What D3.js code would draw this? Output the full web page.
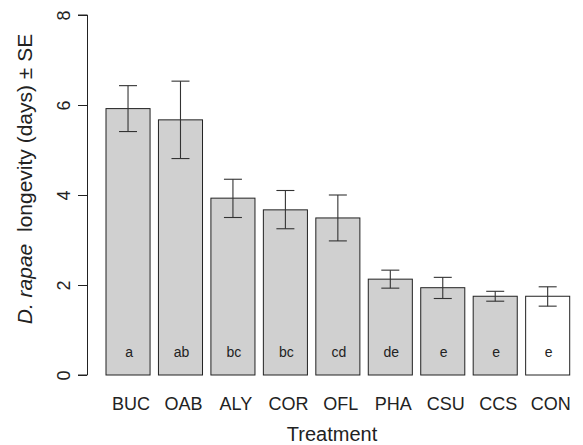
<!DOCTYPE html>
<html><head><meta charset="utf-8">
<script src="https://cdn.jsdelivr.net/npm/d3@7"></script>
<style>body{margin:0;background:#fff}svg{display:block;font-family:"Liberation Sans",Arial,sans-serif}</style>
</head><body>
<script>
const categories = ["BUC","OAB","ALY","COR","OFL","PHA","CSU","CCS","CON"];
const means = [5.92, 5.67, 3.93, 3.67, 3.49, 2.13, 1.94, 1.75, 1.75];
const seUpper = [6.43, 6.53, 4.35, 4.10, 4.00, 2.33, 2.17, 1.86, 1.96];
const seLower = [5.41, 4.81, 3.50, 3.25, 2.98, 1.93, 1.70, 1.64, 1.53];
const letters = ["a","ab","bc","bc","cd","de","e","e","e"];
const fills = ["#d0d0d0","#d0d0d0","#d0d0d0","#d0d0d0","#d0d0d0","#d0d0d0","#d0d0d0","#d0d0d0","#ffffff"];
const yTicks = [0,2,4,6,8];

const W=583,H=445;
const svg=d3.select("body").append("svg").attr("width",W).attr("height",H);
const y=d3.scaleLinear().domain([0,8]).range([375,15]);
const x=d3.scaleBand().domain(categories).range([101.8,573.9]).paddingInner(0.16).paddingOuter(0.08);

const g=svg.append("g");
g.selectAll("rect.bar").data(categories).join("rect")
  .attr("x",d=>x(d)).attr("width",x.bandwidth())
  .attr("y",(d,i)=>y(means[i])).attr("height",(d,i)=>y(0)-y(means[i]))
  .attr("fill",(d,i)=>fills[i]).attr("stroke","#222").attr("stroke-width",1);
const cap=9;
categories.forEach((c,i)=>{
  const cx=x(c)+x.bandwidth()/2;
  const eg=g.append("g").attr("stroke","#333").attr("stroke-width",1.1);
  eg.append("line").attr("x1",cx).attr("x2",cx).attr("y1",y(seLower[i])).attr("y2",y(seUpper[i]));
  eg.append("line").attr("x1",cx-cap).attr("x2",cx+cap).attr("y1",y(seUpper[i])).attr("y2",y(seUpper[i]));
  eg.append("line").attr("x1",cx-cap).attr("x2",cx+cap).attr("y1",y(seLower[i])).attr("y2",y(seLower[i]));
  g.append("text").attr("x",cx+1).attr("y",357).attr("text-anchor","middle")
    .attr("font-size",14).attr("fill","#222").text(letters[i]);
  g.append("text").attr("x",cx+3).attr("y",410).attr("text-anchor","middle")
    .attr("font-size",18).attr("fill","#222").text(c);
});
const ax=svg.append("g").attr("transform","translate(87,0)")
  .call(d3.axisLeft(y).tickValues(yTicks).tickSize(9).tickFormat(d3.format("d")));
ax.attr("font-size",null).attr("font-family",null);
ax.select(".domain").attr("stroke","#222").attr("d","M-9,"+y(0)+"H0.5V"+y(8)+"H-9");
ax.selectAll(".tick line").attr("stroke","#222");
ax.selectAll(".tick text").attr("font-size",18).attr("fill","#222")
  .attr("x",0).attr("y",0).attr("dy",0)
  .attr("transform","translate(-17,0) rotate(-90)").attr("text-anchor","middle");
svg.append("text").attr("x",332).attr("y",441).attr("text-anchor","middle")
  .attr("font-size",20).attr("fill","#222").text("Treatment");
const yt=svg.append("text").attr("transform","translate(32,179) rotate(-90)")
  .attr("text-anchor","middle").attr("font-size",21).attr("fill","#222");
yt.append("tspan").attr("font-style","italic").text("D. rapae");
yt.append("tspan").text("\u00a0 longevity (days) \u00b1 SE");
</script>
</body></html>
